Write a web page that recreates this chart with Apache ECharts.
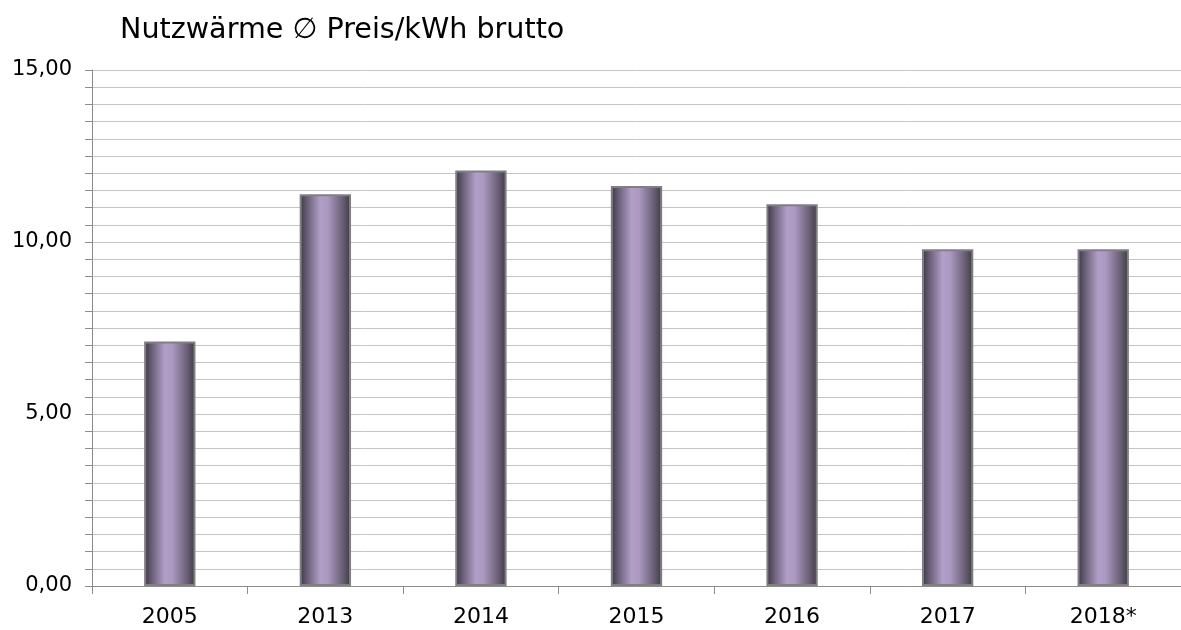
<!DOCTYPE html>
<html>
<head>
<meta charset="utf-8">
<script src="https://cdn.jsdelivr.net/npm/echarts@6/dist/echarts.min.js"></script>
<style>
  html, body { margin: 0; padding: 0; background: #ffffff; }
  #chart { width: 1181px; height: 630px; }
</style>
</head>
<body>
<div id="chart"></div>
<script>
// Average price of useful heat per kWh (gross), by year
const chartTitle = 'Nutzwärme \u2205 Preis/kWh brutto';
const years = ['2005', '2013', '2014', '2015', '2016', '2017', '2018*'];
const prices = [7.11, 11.39, 12.08, 11.63, 11.10, 9.79, 9.79];
const yMin = 0;
const yMax = 15;
const yStep = 5;

const fontFamily = 'Verdana, "DejaVu Sans", sans-serif';

// Cylinder-like shading across each bar
const barFill = new echarts.graphic.LinearGradient(0, 0, 1, 0, [
  { offset: 0.00, color: '#3b3641' },
  { offset: 0.15, color: '#6a5f78' },
  { offset: 0.40, color: '#b19fc7' },
  { offset: 0.55, color: '#ab99c1' },
  { offset: 0.85, color: '#665c72' },
  { offset: 1.00, color: '#3c3842' }
]);

const chart = echarts.init(document.getElementById('chart'), null, { renderer: 'canvas' });

chart.setOption({
  backgroundColor: '#ffffff',
  animation: false,
  title: {
    text: chartTitle,
    left: 115,
    top: 11,
    textStyle: { fontFamily, fontSize: 28.6, fontWeight: 'normal', color: '#000000' }
  },
  grid: { left: 92, right: 0, top: 70, bottom: 44, containLabel: false },
  xAxis: {
    type: 'category',
    data: years,
    axisLine: { show: true, lineStyle: { color: '#8c8c8c', width: 1 } },
    axisTick: { show: true, alignWithLabel: false, length: 8, lineStyle: { color: '#8c8c8c' } },
    axisLabel: { fontFamily, fontSize: 22, color: '#000000', margin: 20 },
    splitLine: { show: false }
  },
  yAxis: {
    type: 'value',
    min: yMin,
    max: yMax,
    interval: yStep,
    axisLine: { show: true, lineStyle: { color: '#8c8c8c', width: 1 } },
    axisTick: { show: true, length: 7, lineStyle: { color: '#8c8c8c' } },
    minorTick: { show: true, splitNumber: 10, length: 7, lineStyle: { color: '#8c8c8c' } },
    axisLabel: {
      fontFamily, fontSize: 21, color: '#000000', margin: 20,
      formatter: v => v.toFixed(2).replace('.', ',')
    },
    splitLine: { show: true, lineStyle: { color: '#c4c4c4', width: 1 } },
    minorSplitLine: { show: true, lineStyle: { color: '#c4c4c4', width: 1 } }
  },
  series: [{
    type: 'bar',
    data: prices,
    barWidth: '33%',
    itemStyle: { color: barFill, borderColor: '#808080', borderWidth: 2 }
  }]
});
</script>
</body>
</html>
